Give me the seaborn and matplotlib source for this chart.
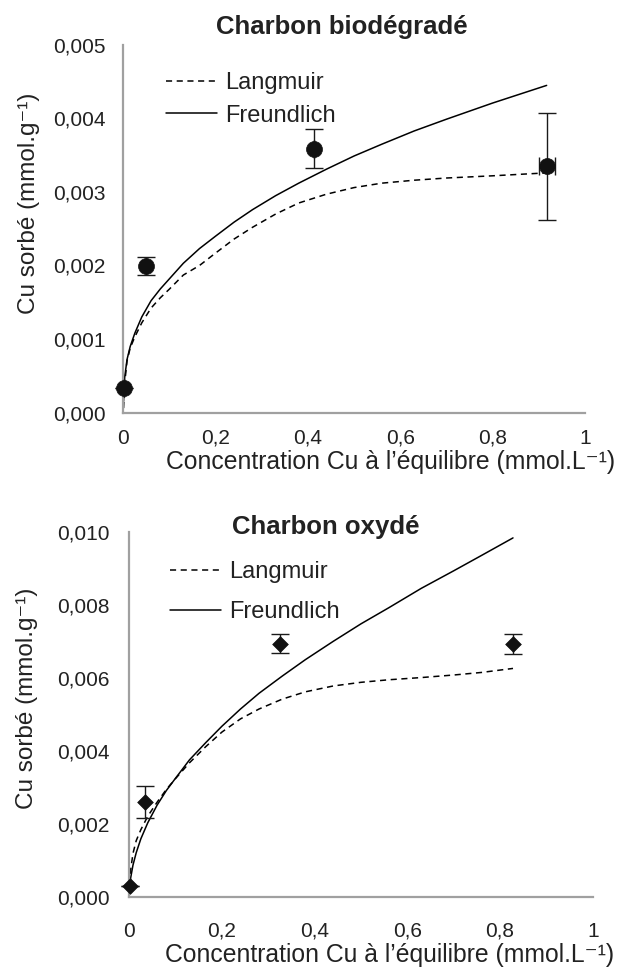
import numpy as np
import pandas as pd
import matplotlib
matplotlib.use("Agg")
import matplotlib.pyplot as plt
import seaborn as sns

# ==========================================
# Data
# ==========================================
# Charbon biodégradé - measured points
bio_ce = [0.002, 0.050, 0.412, 0.918]
bio_q = [0.00033, 0.00199, 0.00359, 0.00335]
bio_q_err = [0.0, 0.00012, 0.00026, 0.00073]
bio_ce_err = [0.0, 0.0, 0.0, 0.018]

# Charbon biodégradé - fitted isotherms
bio_fit_ce = [0.0005, 0.003, 0.008, 0.015, 0.025, 0.04, 0.06, 0.08, 0.1, 0.13,
              0.165, 0.2, 0.24, 0.28, 0.33, 0.38, 0.44, 0.5, 0.56, 0.63, 0.7,
              0.8, 0.917]
bio_langmuir = [0.00006, 0.00040, 0.00070, 0.00088, 0.00103, 0.00122, 0.00142,
                0.00156, 0.00168, 0.00187, 0.00200, 0.00217, 0.00236, 0.00252,
                0.00270, 0.00285, 0.00297, 0.00306, 0.00312, 0.00316, 0.00319,
                0.00322, 0.00326]
bio_freundlich = [0.00015, 0.00048, 0.00072, 0.00090, 0.00108, 0.00130, 0.00152,
                  0.00168, 0.00182, 0.00203, 0.00223, 0.00240, 0.00259, 0.00276,
                  0.00295, 0.00312, 0.00331, 0.00349, 0.00365, 0.00383, 0.00399,
                  0.00421, 0.00445]

# Charbon oxydé - measured points
oxy_ce = [0.002, 0.034, 0.326, 0.828]
oxy_q = [0.00030, 0.00261, 0.00694, 0.00693]
oxy_q_err = [0.0, 0.00043, 0.00026, 0.00027]

# Charbon oxydé - fitted isotherms
oxy_fit_ce = [0.001, 0.003, 0.008, 0.015, 0.025, 0.04, 0.06, 0.08, 0.1, 0.13,
              0.165, 0.2, 0.24, 0.28, 0.33, 0.38, 0.44, 0.5, 0.56, 0.63, 0.7,
              0.76, 0.828]
oxy_langmuir = [0.00035, 0.00075, 0.00120, 0.00155, 0.00185, 0.00222, 0.00260,
                0.00295, 0.00325, 0.00368, 0.00412, 0.00452, 0.00488, 0.00515,
                0.00542, 0.00562, 0.00578, 0.00588, 0.00595, 0.00601, 0.00608,
                0.00615, 0.00626]
oxy_freundlich = [0.00030, 0.00053, 0.00088, 0.00122, 0.00160, 0.00204, 0.00252,
                  0.00292, 0.00326, 0.00376, 0.00423, 0.00468, 0.00515, 0.00558,
                  0.00605, 0.00650, 0.00700, 0.00748, 0.00792, 0.00845, 0.00893,
                  0.00935, 0.00983]

x_ticks = [0, 0.2, 0.4, 0.6, 0.8, 1]
x_ticklabels = ["0", "0,2", "0,4", "0,6", "0,8", "1"]

# ==========================================
# Style
# ==========================================
sns.set_style("white")
plt.rcParams['font.family'] = ['Liberation Sans', 'DejaVu Sans']

TXT = '#222222'
AXC = '#a0a0a0'

fig = plt.figure(figsize=(6.2, 9.69), dpi=100)
ax1 = fig.add_axes([0.1989, 0.5743, 0.7446, 0.3793])
ax2 = fig.add_axes([0.2085, 0.0740, 0.7475, 0.3773])


def draw_panel(ax, fit_ce, lang, freu, ce, q, qerr, ce_err, marker, msize,
               ymax, ystep, xpad, ypad):
    sns.lineplot(x=fit_ce, y=lang, ax=ax, color='black', lw=1.1,
                 linestyle=(0, (4, 3)), label='Langmuir')
    sns.lineplot(x=fit_ce, y=freu, ax=ax, color='black', lw=1.1,
                 label='Freundlich')
    ax.errorbar(ce, q, yerr=qerr, xerr=ce_err, fmt='none', ecolor='#1a1a1a',
                elinewidth=1.0, capsize=6.5, capthick=1.0, zorder=4, clip_on=False)
    sns.scatterplot(x=ce, y=q, ax=ax, marker=marker, s=msize, color='#111111',
                    edgecolor='#111111', linewidth=0.5, zorder=5, clip_on=False)

    ax.set_xlim(0, 1)
    ax.set_ylim(0, ymax)
    ax.set_xticks(x_ticks)
    ax.set_xticklabels(x_ticklabels)
    yt = np.arange(0, ymax + ystep / 2, ystep)
    ax.set_yticks(yt)
    ax.set_yticklabels([f"{v:.3f}".replace('.', ',') for v in yt])

    for s in ['top', 'right']:
        ax.spines[s].set_visible(False)
    for s in ['left', 'bottom']:
        ax.spines[s].set_color(AXC)
        ax.spines[s].set_linewidth(1.6)
    ax.tick_params(axis='both', direction='out', length=7, width=1.6,
                   color=AXC, labelsize=15, labelcolor=TXT)
    ax.tick_params(axis='x', pad=xpad)
    ax.tick_params(axis='y', pad=ypad)
    ax.grid(False)


draw_panel(ax1, bio_fit_ce, bio_langmuir, bio_freundlich, bio_ce, bio_q,
           bio_q_err, bio_ce_err, 'o', 132, 0.005, 0.001, 4.8, 6.0)
draw_panel(ax2, oxy_fit_ce, oxy_langmuir, oxy_freundlich, oxy_ce, oxy_q,
           oxy_q_err, None, 'D', 64, 0.010, 0.002, 10.5, 6.9)

xlabel = "Concentration Cu à l’équilibre (mmol.L⁻¹)"
ylabel = "Cu sorbé (mmol.g⁻¹)"

for ax, xc, xy, yx, yy in [(ax1, 0.578, -0.154, -0.205, 0.570),
                           (ax2, 0.5626, -0.178, -0.220, 0.545)]:
    ax.set_xlabel(xlabel, fontsize=17.8, color=TXT, va='baseline')
    ax.xaxis.set_label_coords(xc, xy)
    ax.set_ylabel(ylabel, fontsize=17.5, color=TXT)
    ax.yaxis.label.set_rotation_mode('default')
    ax.yaxis.label.set_va('center')
    ax.yaxis.label.set_ha('center')
    ax.yaxis.set_label_coords(yx, yy)

# legends
ax1.legend(loc='upper left', bbox_to_anchor=(166 / 620, 1 - 72 / 969),
           bbox_transform=fig.transFigure, frameon=False, fontsize=17,
           borderpad=0, borderaxespad=0, handlelength=2.16, handletextpad=0.34,
           labelspacing=0.45, labelcolor=TXT)
ax2.legend(loc='upper left', bbox_to_anchor=(169.6 / 620, 1 - 561 / 969),
           bbox_transform=fig.transFigure, frameon=False, fontsize=17,
           borderpad=0, borderaxespad=0, handlelength=2.16, handletextpad=0.34,
           labelspacing=0.76, labelcolor=TXT)

# titles
fig.text(341.7 / 620, 1 - 27 / 969, "Charbon biodégradé", fontsize=18.5,
         fontweight='bold', color=TXT, ha='center', va='center')
fig.text(325.6 / 620, 1 - 527 / 969, "Charbon oxydé", fontsize=18.5,
         fontweight='bold', color=TXT, ha='center', va='center')

fig.savefig("out.png", dpi=100)
